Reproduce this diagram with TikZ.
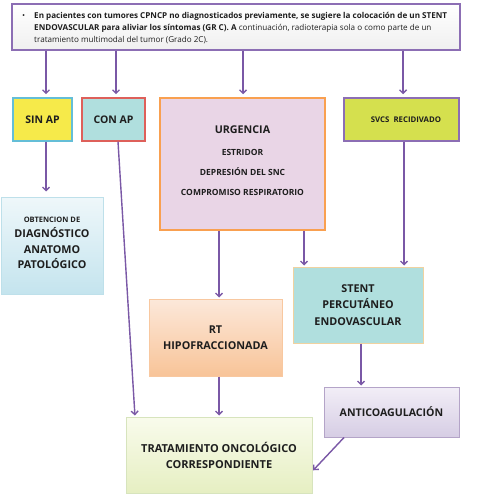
\documentclass[tikz,border=0pt]{standalone}
\usepackage{fontspec}
\setmainfont{Open Sans}
\usetikzlibrary{arrows.meta,shadows}
\definecolor{arrc}{RGB}{122,88,166}
\definecolor{topbd}{RGB}{140,110,180}
\definecolor{sinfill}{RGB}{246,234,74}
\definecolor{sinbd}{RGB}{100,190,215}
\definecolor{confill}{RGB}{176,223,222}
\definecolor{conbd}{RGB}{222,96,90}
\definecolor{urgfill}{RGB}{233,213,230}
\definecolor{urgbd}{RGB}{249,160,80}
\definecolor{svcsfill}{RGB}{213,224,78}
\definecolor{svcsbd}{RGB}{140,110,180}
\definecolor{obttop}{RGB}{238,247,250}
\definecolor{obtbot}{RGB}{196,228,238}
\definecolor{obtbd}{RGB}{190,224,234}
\definecolor{stentfill}{RGB}{176,223,222}
\definecolor{stentbd}{RGB}{240,210,160}
\definecolor{rttop}{RGB}{252,232,218}
\definecolor{rtbot}{RGB}{248,196,152}
\definecolor{rtbd}{RGB}{248,200,160}
\definecolor{trtop}{RGB}{249,251,236}
\definecolor{trbot}{RGB}{230,239,194}
\definecolor{trbd}{RGB}{215,228,189}
\definecolor{antop}{RGB}{242,238,247}
\definecolor{anbot}{RGB}{214,205,228}
\definecolor{anbd}{RGB}{180,164,200}
\definecolor{txt}{RGB}{30,30,30}
\tikzset{
  boxst/.style={rectangle, align=center, inner sep=0pt, text=txt,
    drop shadow={opacity=0.18, shadow xshift=1.2pt, shadow yshift=-1.2pt}},
  arr/.style={draw=arrc, line width=1.4pt, -{Straight Barb[length=3.5pt,width=7pt]}, shorten >=3pt},
}
\begin{document}
\begin{tikzpicture}[x=1pt,y=-1pt]
\useasboundingbox[fill=white] (0,0) rectangle (479,502);
% top box
\node[boxst, draw=topbd, line width=2pt, top color=white, bottom color=black!6,
  minimum width=448pt, minimum height=46pt] (top) at (236,27) {};
\node[anchor=west, align=left, inner sep=0pt, text=txt] (toptext) at (22,28)
  {\fontsize{8.1}{12}\selectfont
   \begin{tabular}{@{}l@{\hspace{9pt}}l@{}}
   • & \textbf{En pacientes con tumores CPNCP no diagnosticados previamente, se sugiere la colocación de un STENT}\\
     & \textbf{ENDOVASCULAR para aliviar los síntomas (GR C). A} continuación, radioterapia sola o como parte de un\\
     & tratamiento multimodal del tumor (Grado 2C).
   \end{tabular}};
% second row
\node[boxst, draw=sinbd, line width=1.5pt, fill=sinfill, minimum width=59pt, minimum height=43pt,
  font=\fontsize{10.5}{12}\selectfont\bfseries] (sinap) at (42.5,119.5) {SIN AP};
\node[boxst, draw=conbd, line width=1.5pt, fill=confill, minimum width=63pt, minimum height=43pt,
  font=\fontsize{10.5}{12}\selectfont\bfseries] (conap) at (113.5,119.5) {CON AP};
\node[boxst, draw=urgbd, line width=1.5pt, fill=urgfill, minimum width=165pt, minimum height=132pt,
  font=\fontsize{8.5}{20}\selectfont\bfseries] (urg) at (242.5,164)
  {{\fontsize{10.7}{13}\selectfont URGENCIA}\\[2pt] ESTRIDOR\\ DEPRESIÓN DEL SNC\\ COMPROMISO RESPIRATORIO\\[-14pt]\mbox{}};
\node[boxst, draw=svcsbd, line width=1.5pt, fill=svcsfill, minimum width=115pt, minimum height=43pt,
  font=\fontsize{7.8}{10}\selectfont\bfseries] (svcs) at (401.5,119.5) {\hspace{9pt}SVCS\ \ RECIDIVADO};
% third row
\node[boxst, draw=obtbd, line width=1pt, top color=obttop, bottom color=obtbot, minimum width=102pt, minimum height=96pt,
  font=\fontsize{10.8}{15.5}\selectfont\bfseries] (obt) at (52,246)
  {{\fontsize{7.5}{10}\selectfont OBTENCION DE}\\ DIAGNÓSTICO\\ ANATOMO\\ PATOLÓGICO\\[-9pt]\mbox{}};
\node[boxst, draw=stentbd, line width=1pt, fill=stentfill, minimum width=130pt, minimum height=76pt,
  font=\fontsize{10.8}{16.5}\selectfont\bfseries] (stent) at (358,305)
  {STENT\\ PERCUTÁNEO\\ ENDOVASCULAR};
\node[boxst, draw=rtbd, line width=1pt, top color=rttop, bottom color=rtbot, minimum width=133pt, minimum height=77pt,
  font=\fontsize{10.8}{16.5}\selectfont\bfseries] (rt) at (215.5,337.5)
  {RT\\ HIPOFRACCIONADA};
\node[boxst, draw=anbd, line width=1pt, top color=antop, bottom color=anbot, minimum width=135pt, minimum height=50pt,
  font=\fontsize{10.6}{13}\selectfont\bfseries] (antico) at (391.5,412) {ANTICOAGULACIÓN};
\node[boxst, draw=trbd, line width=1pt, top color=trtop, bottom color=trbot, minimum width=186pt, minimum height=76pt,
  font=\fontsize{11}{16}\selectfont\bfseries] (trat) at (219,455)
  {TRATAMIENTO ONCOLÓGICO\\ CORRESPONDIENTE};
% arrows
\draw[arr] (top.south -| 46,0) -- (sinap.north -| 46,0);
\draw[arr] (top.south -| 116,0) -- (conap.north -| 116,0);
\draw[arr] (top.south -| 243,0) -- (urg.north -| 243,0);
\draw[arr] (top.south -| 403,0) -- (svcs.north -| 403,0);
\draw[arr, shorten >=6pt] (sinap.south -| 46,0) -- (obt.north -| 46,0);
\draw[arr, shorten >=1pt] (conap.south -| 118,0) -- (trat.north -| 135,0);
\draw[arr, shorten >=1pt] (urg.south -| 219,0) -- (rt.north -| 219,0);
\draw[arr, shorten >=1pt] (urg.south -| 304,0) -- (stent.north -| 304,0);
\draw[arr, shorten >=1pt] (svcs.south -| 404,0) -- (stent.north -| 404,0);
\draw[arr, shorten >=1pt] (rt.south -| 219,0) -- (trat.north -| 219,0);
\draw[arr, shorten >=1pt] (stent.south -| 361,0) -- (antico.north -| 361,0);
\draw[arr, shorten >=1pt] (antico.south -| 344,0) -- (trat.east |- 0,471);
\end{tikzpicture}
\end{document}
